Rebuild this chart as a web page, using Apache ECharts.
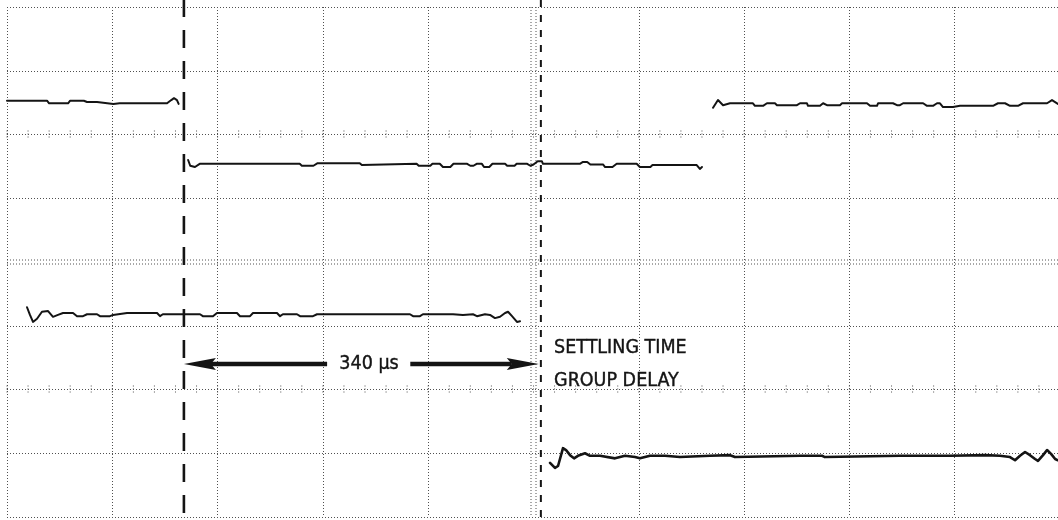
<!DOCTYPE html>
<html>
<head>
<meta charset="utf-8">
<script src="https://cdn.jsdelivr.net/npm/echarts@6/dist/echarts.min.js"></script>
<style>
html,body{margin:0;padding:0;background:#ffffff;}
#chart{width:1058px;height:520px;}
</style>
</head>
<body>
<div id="chart"></div>
<script>
// Horizontal axis: time in microseconds (100 us / division, 10 divisions)
// Vertical axis: screen divisions (8 divisions, centre = 0)
const X_MIN = 0, X_MAX = 1000, X_DIV = 100;
const Y_MIN = -4, Y_MAX = 4, Y_DIV = 1;

// Upper trace (input step), three visible pieces
const traceUpperA = [[0,2.53],[38,2.53],[40,2.49],[58,2.49],[60,2.53],[73,2.53],[76,2.51],[85.5,2.51],[87,2.48],[101,2.48],[107,2.49],[152,2.49],[156,2.54],[158.6,2.57],[161.4,2.54],[163,2.48]];
const traceUpperB = [[172,1.60],[174,1.51],[178.5,1.49],[183,1.54],[278,1.54],[280,1.51],[291,1.51],[295,1.55],[335,1.55],[337,1.52],[389,1.54],[391,1.51],[402,1.51],[404,1.54],[411,1.54],[414,1.49],[421,1.49],[424,1.54],[437,1.54],[440,1.51],[443,1.51],[446,1.54],[451,1.54],[453,1.49],[458,1.49],[461,1.54],[473,1.54],[475,1.51],[482,1.51],[484,1.54],[494,1.54],[497,1.51],[500,1.53],[504,1.58],[508,1.58],[509,1.54],[544,1.54],[547,1.57],[551,1.57],[554,1.53],[566,1.53],[568,1.49],[575,1.49],[579,1.54],[598,1.54],[601,1.49],[611,1.49],[613,1.52],[655,1.52],[658,1.46],[660,1.49]];
const traceUpperC = [[670.5,2.42],[675.2,2.54],[680,2.46],[686.6,2.49],[708.4,2.49],[710.3,2.45],[718,2.45],[721.7,2.49],[729.3,2.49],[731.2,2.46],[750.2,2.46],[753.1,2.49],[759.7,2.49],[760.7,2.45],[772.1,2.45],[775,2.49],[778.7,2.46],[791,2.46],[793,2.49],[816.7,2.49],[819.6,2.45],[826.2,2.45],[827.2,2.49],[841.4,2.49],[845.2,2.46],[848,2.46],[851,2.49],[870,2.49],[873.7,2.45],[879.4,2.45],[883.2,2.49],[886,2.49],[888.9,2.43],[898.4,2.43],[905,2.45],[936.4,2.45],[941.1,2.49],[947.8,2.49],[952.5,2.45],[960.1,2.45],[964.9,2.49],[987.7,2.49],[992.4,2.54],[998,2.48]];

// Lower trace (filter output), two visible pieces
const traceLowerA = [[19,-0.71],[21.8,-0.83],[24.7,-0.94],[28.5,-0.89],[33.2,-0.78],[39,-0.77],[43.7,-0.86],[48.4,-0.83],[53.2,-0.80],[62.7,-0.80],[66.5,-0.85],[72.2,-0.85],[76,-0.82],[85.5,-0.82],[88.3,-0.85],[97.8,-0.85],[100.7,-0.83],[114,-0.80],[142.5,-0.80],[145.3,-0.85],[148,-0.82],[183.3,-0.82],[186,-0.85],[195.6,-0.85],[199.4,-0.80],[218.4,-0.80],[221.3,-0.85],[230.8,-0.85],[233.6,-0.80],[256.4,-0.80],[259.3,-0.85],[262,-0.82],[275.4,-0.82],[278.3,-0.85],[290.6,-0.85],[294.4,-0.82],[335.2,-0.82],[382.7,-0.82],[385.6,-0.85],[392.2,-0.85],[395,-0.82],[423.6,-0.82],[425.4,-0.85],[433,-0.83],[442.5,-0.82],[446.3,-0.85],[453.9,-0.82],[458.7,-0.83],[463.4,-0.88],[468.2,-0.86],[473,-0.80],[475.8,-0.78],[479.6,-0.85],[484.3,-0.94],[487.2,-0.93]];
const traceLowerB = [[515.7,-3.15],[520.4,-3.23],[523.3,-3.20],[528,-2.92],[530.9,-2.95],[534.7,-3.03],[538.5,-3.08],[542.2,-3.04],[548.9,-3.00],[553.7,-3.04],[563.2,-3.04],[577.4,-3.08],[586.9,-3.04],[596.4,-3.06],[601.1,-3.08],[610.6,-3.04],[624.9,-3.04],[639.1,-3.06],[667.6,-3.04],[686.6,-3.03],[691.4,-3.06],[753.1,-3.04],[774,-3.04],[776.8,-3.06],[848,-3.04],[895.5,-3.04],[928.8,-3.03],[943,-3.04],[952.5,-3.06],[957.3,-3.11],[962,-3.04],[966.8,-2.98],[971.5,-3.03],[976.3,-3.09],[979.1,-3.12],[983.9,-3.03],[987.7,-2.95],[991.5,-3.01],[995.4,-3.09],[998,-3.11]];

// Cursor lines (time in us)
const cursorTimes = [168, 507];
// Measurement arrows: [from time, to (tip) time, level]
const arrows = [[304, 168, -1.6], [383, 505, -1.6]];
// Annotation texts
const labelTexts = ['340 \u03bcs', 'SETTLING TIME', 'GROUP DELAY'];
const labelTimes = [343.8, 519.5, 519.5];
const labelLevels = [-1.6, -1.35, -1.86];
const labelAligns = ['center', 'left', 'left'];
// graticule minor tick rows (levels with 1/5 division ticks)
const tickRows = [2, -2];
const minorStep = 20;

const FONT = "19.5px 'Liberation Sans Narrow', 'DejaVu Sans Condensed', 'Liberation Sans', sans-serif";
const INK = '#141414';
const GRID_COLOR = '#505050';

function splitColors(n, centerIdx) {
  const arr = [];
  for (let i = 0; i < n; i++) arr.push(i === centerIdx ? 'rgba(0,0,0,0)' : GRID_COLOR);
  return arr;
}

const chart = echarts.init(document.getElementById('chart'), null, {renderer: 'canvas'});

function lineSeries(name, data, width) {
  return {
    name: name, type: 'line', data: data, showSymbol: false, symbol: 'none',
    lineStyle: {color: INK, width: width || 2, join: 'round', cap: 'round'},
    silent: true, z: 5, animation: false, clip: false
  };
}

const option = {
  backgroundColor: '#ffffff',
  animation: false,
  grid: {left: 7, top: 7, width: 1053, height: 510, containLabel: false, outerBoundsMode: 'none'},
  xAxis: {
    type: 'value', min: X_MIN, max: X_MAX, interval: X_DIV,
    axisLine: {show: false}, axisTick: {show: false}, axisLabel: {show: false},
    splitLine: {show: true, lineStyle: {color: splitColors(11, 5), width: 1, type: [1, 2]}}
  },
  yAxis: {
    type: 'value', min: Y_MIN, max: Y_MAX, interval: Y_DIV,
    axisLine: {show: false}, axisTick: {show: false}, axisLabel: {show: false},
    splitLine: {show: true, lineStyle: {color: splitColors(9, 4), width: 1, type: [1, 2]}}
  },
  series: [
    {
      type: 'custom', name: 'graticule', data: [[0, 0]], silent: true, z: 1, clip: false,
      renderItem: function (params, api) {
        const children = [];
        const dotted = {stroke: GRID_COLOR, lineWidth: 1, lineDash: [1, 2]};
        const L = api.coord([X_MIN, 0]), R = api.coord([X_MAX, 0]);
        [-2, 2].forEach(function (off) {
          children.push({type: 'line', shape: {x1: L[0], y1: L[1] + off, x2: R[0], y2: R[1] + off}, style: dotted});
        });
        const cx = (X_MIN + X_MAX) / 2;
        const T = api.coord([cx, Y_MAX]), B = api.coord([cx, Y_MIN]);
        [-2.5, 2.5].forEach(function (off) {
          children.push({type: 'line', shape: {x1: T[0] + off, y1: T[1], x2: B[0] + off, y2: B[1]}, style: dotted});
        });
        tickRows.forEach(function (lv) {
          for (let t = X_MIN; t <= X_MAX; t += minorStep) {
            const p = api.coord([t, lv]);
            children.push({type: 'line', shape: {x1: p[0], y1: p[1] - 4, x2: p[0], y2: p[1] + 4}, style: {stroke: GRID_COLOR, lineWidth: 1, lineDash: [1, 2]}});
          }
        });
        return {type: 'group', children: children};
      }
    },
    lineSeries('upperA', traceUpperA, 2),
    lineSeries('upperB', traceUpperB, 2),
    lineSeries('upperC', traceUpperC, 2),
    lineSeries('lowerA', traceLowerA, 2),
    lineSeries('lowerB', traceLowerB, 2.6),
    {
      type: 'custom', name: 'cursors', silent: true, z: 6, clip: false,
      data: cursorTimes.map(function (t, i) { return [t, i]; }),
      renderItem: function (params, api) {
        const t = api.value(0), i = api.value(1);
        const top = api.coord([t, Y_MAX]), bot = api.coord([t, Y_MIN]);
        const style = i === 0
          ? {stroke: INK, lineWidth: 2.6, lineDash: [18, 13], lineDashOffset: 1}
          : {stroke: INK, lineWidth: 2, lineDash: [7, 8], lineDashOffset: 0};
        return {type: 'line', shape: {x1: top[0], y1: top[1] - 7, x2: bot[0], y2: bot[1] + 3}, style: style};
      }
    },
    {
      type: 'custom', name: 'arrows', silent: true, z: 7, clip: false,
      data: arrows,
      renderItem: function (params, api) {
        const lv = api.value(2);
        const p1 = api.coord([api.value(0), lv]);
        const p2 = api.coord([api.value(1), lv]);
        const dir = p2[0] > p1[0] ? 1 : -1;
        const headLen = 32, halfW = 6, notch = 27;
        return {
          type: 'group',
          children: [
            {type: 'line', shape: {x1: p1[0], y1: p1[1], x2: p2[0] - dir * notch, y2: p2[1]}, style: {stroke: INK, lineWidth: 4.4}},
            {type: 'polygon', shape: {points: [
              [p2[0], p2[1]],
              [p2[0] - dir * headLen, p2[1] - halfW],
              [p2[0] - dir * notch, p2[1]],
              [p2[0] - dir * headLen, p2[1] + halfW]
            ]}, style: {fill: INK}}
          ]
        };
      }
    },
    {
      type: 'custom', name: 'labels', silent: true, z: 8, clip: false,
      data: labelTexts.map(function (s, i) { return [labelTimes[i], labelLevels[i], i]; }),
      renderItem: function (params, api) {
        const i = api.value(2);
        const p = api.coord([api.value(0), api.value(1)]);
        return {
          type: 'text', x: p[0], y: p[1],
          style: {text: labelTexts[i], font: FONT, fill: INK, align: labelAligns[i], verticalAlign: 'middle', stroke: INK, lineWidth: 0.4}
        };
      }
    }
  ]
};

chart.setOption(option);
</script>
</body>
</html>
